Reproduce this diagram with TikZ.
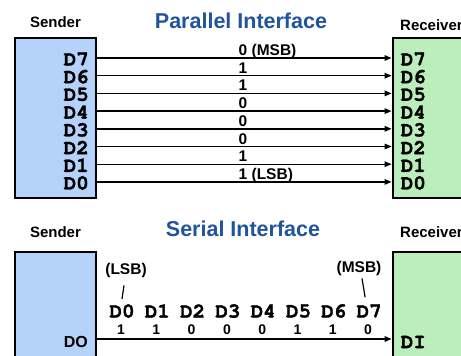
\documentclass[tikz,border=0pt]{standalone}
\usepackage{fontspec}
\setmainfont{Liberation Sans}
\newfontfamily\codefont[BoldFeatures={FakeBold=1.4}]{TeX Gyre Cursor}
\usetikzlibrary{arrows.meta}
\definecolor{sendfill}{RGB}{180,210,250}
\definecolor{recvfill}{RGB}{188,238,188}
\definecolor{titleblue}{RGB}{32,84,156}

\begin{document}
\begin{tikzpicture}[x=1pt,y=-1pt,
  box/.style={draw=black, line width=2.8pt, inner sep=0pt},
  sendbox/.style={box, fill=sendfill},
  recvbox/.style={box, fill=recvfill},
  pin/.style={font=\codefont\bfseries\fontsize{21}{21}\selectfont, inner sep=0pt},
  role/.style={font=\bfseries\fontsize{15}{15}\selectfont, inner sep=0pt},
  heading/.style={font=\bfseries\fontsize{21.5}{21.5}\selectfont, text=titleblue, inner sep=0pt},
  bit/.style={font=\bfseries\fontsize{15.5}{15.5}\selectfont, inner sep=0pt},
  sbit/.style={font=\bfseries\fontsize{14}{14}\selectfont, inner sep=0pt},
  tag/.style={font=\bfseries\fontsize{15.5}{15.5}\selectfont, inner sep=0pt},
  wire/.style={line width=1.4pt, -{Triangle[length=7pt,width=5.5pt]}},
  tick/.style={line width=1.2pt}
]
\clip (0,0) rectangle (461,356);
\fill[white] (0,0) rectangle (461,356);

% ---------- parallel interface ----------
\node[heading] (ptitle) at (241,21) {Parallel Interface};
\node[role] (psender) at (55.5,22) {Sender};
\node[role, anchor=west] (preceiver) at (400,25) {Receiver};

\node[sendbox, minimum width=81pt, minimum height=160pt] (sbox) at (55.5,118) {};
\node[recvbox, minimum width=82pt, minimum height=160pt] (rbox) at (434,118) {};

\foreach \i/\b in {7/{0 (MSB)},6/1,5/1,4/0,3/0,2/0,1/1,0/{1 (LSB)}}{
  \pgfmathsetmacro{\ly}{58+(7-\i)*17.7}
  \coordinate (lane\i) at (0,\ly);
  \node[pin, anchor=east] (sD\i) at (89,\ly+1) {D\i};
  \node[pin, anchor=west] (rD\i) at (400.5,\ly+1) {D\i};
  \draw[wire] (lane\i -| sbox.east) -- (lane\i -| rbox.west);
  \node[bit, anchor=base west] (bit\i) at (238.5,\ly-2.5) {\b};
}

% ---------- serial interface ----------
\node[heading] (stitle) at (243,229) {Serial Interface};
\node[role] (ssender) at (55.5,232) {Sender};
\node[role, anchor=west] (sreceiver) at (400,232) {Receiver};

\node[sendbox, minimum width=81pt, minimum height=120pt] (sbox2) at (55.5,312) {};
\node[recvbox, minimum width=82pt, minimum height=120pt] (rbox2) at (434,312) {};

\coordinate (serlane) at (0,339);
\node[font=\bfseries\fontsize{16}{16}\selectfont, inner sep=0pt, anchor=east] (dout) at (88,342) {DO};
\node[pin, anchor=west] (din) at (400.5,342) {DI};
\draw[wire] (serlane -| sbox2.east) -- (serlane -| rbox2.west);

\foreach \i/\b in {0/1,1/1,2/0,3/0,4/0,5/1,6/1,7/0}{
  \node[pin] (sq\i) at (122+35.3*\i,311) {D\i};
  \node[sbit] (sv\i) at (121+35.3*\i,330) {\b};
}

\node[tag] (lsb) at (126,270) {(LSB)};
\node[tag] (msb) at (359,268) {(MSB)};
\draw[tick] ([xshift=-2pt,yshift=-8pt]lsb.south) -- ([yshift=5pt]sq0.north);
\draw[tick] ([xshift=3pt,yshift=-3pt]msb.south) -- ([xshift=-4pt,yshift=7pt]sq7.north);
\end{tikzpicture}
\end{document}
